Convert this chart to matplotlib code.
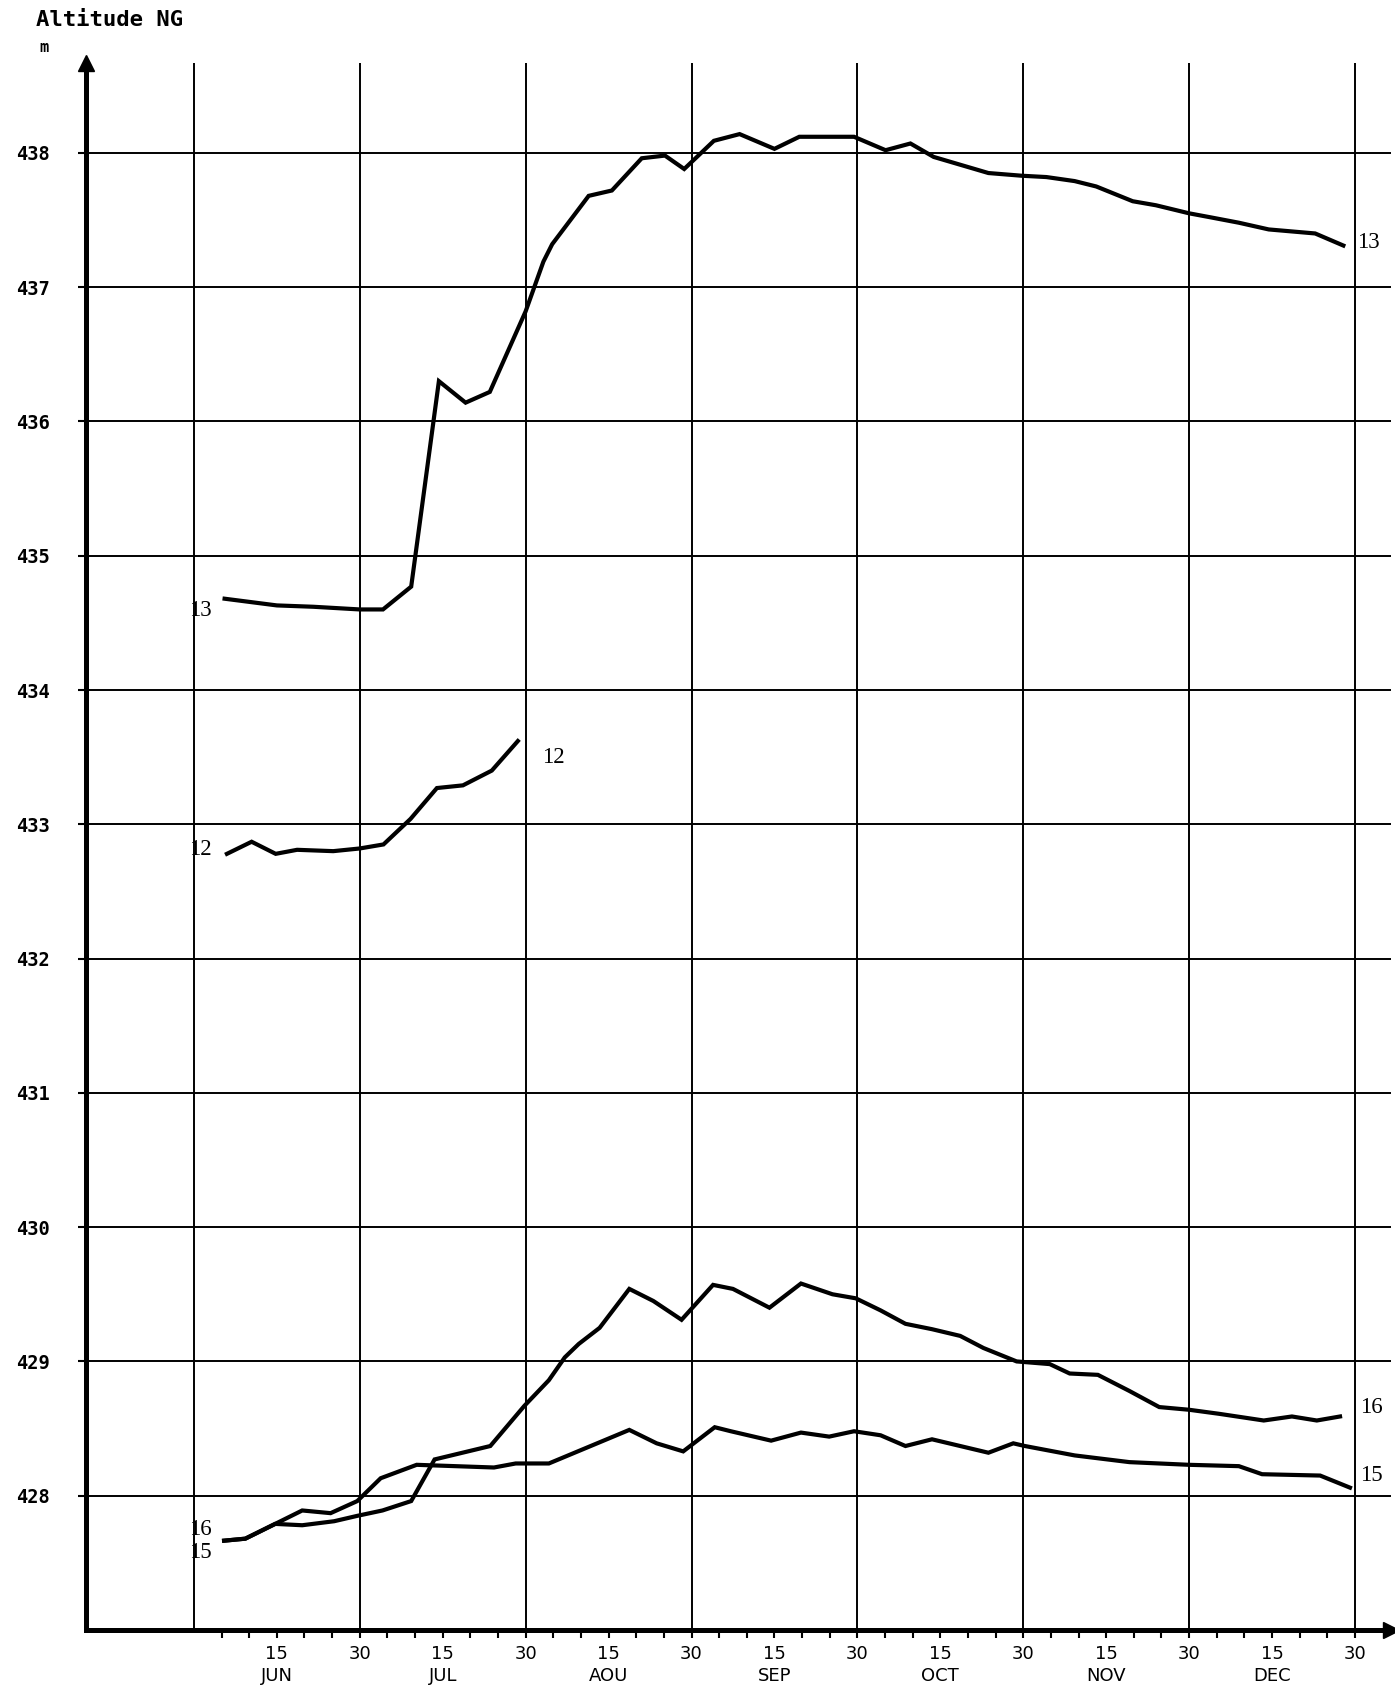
import matplotlib
matplotlib.use("Agg")
import matplotlib.pyplot as plt

# x positions are in months counted from 31 May (1 = 30 Jun, 2 = 31 Jul, ...)
months = ["JUN", "JUL", "AOU", "SEP", "OCT", "NOV", "DEC"]
levels = list(range(428, 439))

t13 = [0.185, 0.50, 0.72, 1.00, 1.14, 1.31, 1.477, 1.638, 1.784, 2.00, 2.107, 2.16,
       2.38, 2.52, 2.70, 2.84, 2.956, 3.135, 3.29, 3.50, 3.65, 3.98, 4.17, 4.32,
       4.46, 4.57, 4.79, 4.99, 5.14, 5.31, 5.44, 5.66, 5.80, 6.00, 6.13, 6.30,
       6.48, 6.76, 6.93]
h13 = [434.68, 434.63, 434.62, 434.60, 434.60, 434.77, 436.30, 436.14, 436.22, 436.82,
       437.19, 437.32, 437.68, 437.72, 437.96, 437.98, 437.88, 438.09, 438.14, 438.03,
       438.12, 438.12, 438.02, 438.07, 437.97, 437.93, 437.85, 437.83, 437.82, 437.79,
       437.75, 437.64, 437.61, 437.55, 437.52, 437.48, 437.43, 437.40, 437.31]

t12 = [0.199, 0.348, 0.493, 0.622, 0.84, 1.00, 1.143, 1.306, 1.465, 1.622, 1.796, 1.953]
h12 = [432.78, 432.87, 432.78, 432.81, 432.80, 432.82, 432.85, 433.04, 433.27, 433.29,
       433.40, 433.62]

t16 = [0.182, 0.31, 0.49, 0.653, 0.846, 0.985, 1.137, 1.31, 1.451, 1.787, 1.993, 2.14,
       2.236, 2.32, 2.446, 2.625, 2.77, 2.94, 3.13, 3.25, 3.47, 3.66, 3.85, 3.99,
       4.14, 4.29, 4.45, 4.62, 4.76, 4.96, 5.16, 5.28, 5.45, 5.64, 5.82, 6.00,
       6.18, 6.45, 6.62, 6.77, 6.91]
h16 = [427.665, 427.68, 427.79, 427.78, 427.81, 427.85, 427.89, 427.96, 428.27, 428.37,
       428.67, 428.86, 429.03, 429.13, 429.25, 429.54, 429.45, 429.31, 429.57, 429.54,
       429.40, 429.58, 429.50, 429.47, 429.38, 429.28, 429.24, 429.19, 429.10, 429.00,
       428.98, 428.91, 428.90, 428.78, 428.66, 428.64, 428.61, 428.56, 428.59, 428.56,
       428.59]

t15 = [0.182, 0.31, 0.49, 0.653, 0.824, 0.985, 1.126, 1.343, 1.809, 1.94, 2.14, 2.625,
       2.79, 2.95, 3.14, 3.237, 3.48, 3.66, 3.83, 3.98, 4.14, 4.29, 4.45, 4.62,
       4.79, 4.94, 5.01, 5.31, 5.64, 6.00, 6.30, 6.44, 6.79, 6.97]
h15 = [427.665, 427.68, 427.79, 427.89, 427.87, 427.96, 428.13, 428.23, 428.21, 428.24,
       428.24, 428.49, 428.39, 428.33, 428.51, 428.48, 428.41, 428.47, 428.44, 428.48,
       428.45, 428.37, 428.42, 428.37, 428.32, 428.39, 428.37, 428.30, 428.25, 428.23,
       428.22, 428.16, 428.15, 428.06]

fig = plt.figure(figsize=(13.95, 16.87), dpi=100)
ax = fig.add_axes((0.0616, 0.0338, 0.9355, 0.9289))
ax.set_xlim(-0.651, 7.217)
ax.set_ylim(427.0, 438.67)

# grid drawn by hand, like the paper sheet
for y in levels:
    ax.axhline(y, color="black", lw=1.4, zorder=1)
for m in range(len(months) + 1):
    ax.axvline(m, color="black", lw=1.4, zorder=1)

for t, h in [(t13, h13), (t12, h12), (t16, h16), (t15, h15)]:
    ax.plot(t, h, color="black", lw=3.0, solid_joinstyle="miter", zorder=3)

# axes with arrows
for s in ["top", "right"]:
    ax.spines[s].set_visible(False)
for s in ["left", "bottom"]:
    ax.spines[s].set_linewidth(3.6)
ax.plot(1, 0, marker=">", ms=11, color="black", transform=ax.transAxes, clip_on=False)
ax.plot(0, 1, marker="^", ms=11, color="black", transform=ax.transAxes, clip_on=False)

ax.set_yticks(levels)
ax.set_yticklabels([str(v) for v in levels], family="DejaVu Sans Mono",
                   fontweight="bold", fontsize=13.5)
ax.tick_params(axis="y", direction="out", length=6, width=1.5, pad=20)

xt, xl = [], []
for i, name in enumerate(months):
    for k in range(1, 7):
        xt.append(i + k / 6)
        if k == 3:
            xl.append("15\n" + name)
        elif k == 6:
            xl.append("30")
        else:
            xl.append("")
ax.set_xticks(xt)
ax.set_xticklabels(xl, fontsize=13, linespacing=1.3, va="top")
ax.tick_params(axis="x", direction="out", length=6, width=1.5, pad=5)

# curve labels
lab = dict(family="Liberation Serif", fontsize=16.5, ha="center", va="center", zorder=4)
ax.text(0.036, 434.59, "13", **lab)
ax.text(0.036, 432.81, "12", **lab)
ax.text(0.036, 427.75, "16", **lab)
ax.text(0.036, 427.58, "15", **lab)
ax.text(2.17, 433.50, "12", **lab)
ax.text(7.08, 437.33, "13", **lab)
ax.text(7.10, 428.66, "16", **lab)
ax.text(7.10, 428.15, "15", **lab)

fig.text(0.0255, 0.988, "Altitude NG", family="DejaVu Sans Mono", fontweight="bold",
         fontsize=16, va="center")
fig.text(0.0280, 0.972, "m", family="DejaVu Sans Mono", fontweight="bold",
         fontsize=11, va="center")

fig.savefig("out.png", dpi=100, facecolor="white")
